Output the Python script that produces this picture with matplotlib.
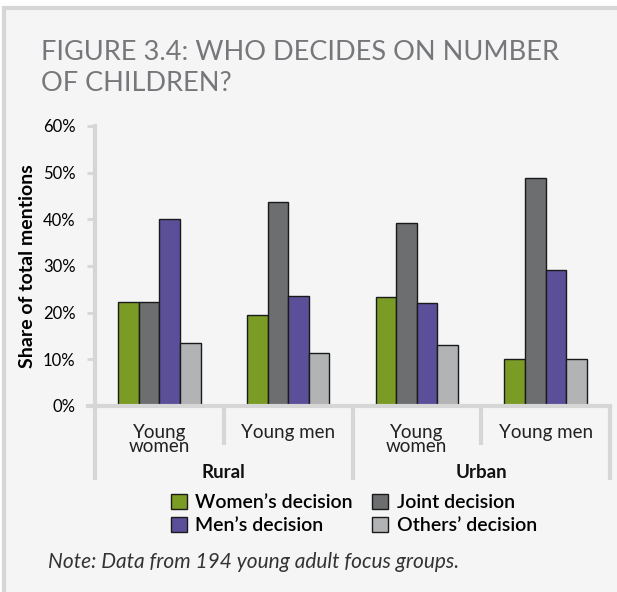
import matplotlib.pyplot as plt
import matplotlib.patches as mpatches
import numpy as np

# data
groups = ["Young\nwomen", "Young men", "Young\nwomen", "Young men"]
regions = ["Rural", "Urban"]
series = ["Women\u2019s decision", "Joint decision", "Men\u2019s decision", "Others\u2019 decision"]
womens = [22.3, 19.6, 23.4, 10.1]
joint = [22.2, 43.8, 39.3, 48.8]
mens = [40.1, 23.6, 22.1, 29.2]
others = [13.6, 11.4, 13.0, 10.0]
colors = ["#7b9c24", "#6d6e70", "#5b4f9a", "#b2b3b5"]
yticks = [0, 10, 20, 30, 40, 50, 60]

plt.rcParams['font.family'] = ['Lato', 'DejaVu Sans']

bg = "#f5f5f5"
line_gray = "#d6d6d6"

fig = plt.figure(figsize=(6.17, 5.92), dpi=100)
fig.patch.set_facecolor("white")
# panel with border at left and top
panel = mpatches.Rectangle((4 / 617, -0.01), 1.0, 1 - 8 / 592 + 0.01,
                           transform=fig.transFigure, facecolor=bg,
                           edgecolor=line_gray, linewidth=3, zorder=-5)
fig.patches.append(panel)

ax = fig.add_axes([95 / 617, 1 - 406 / 592, (610 - 95) / 617, 280 / 592])
ax.set_facecolor(bg)
ax.set_zorder(1)

x = np.arange(len(groups))
w = 0.16
vals = [womens, joint, mens, others]
for i, v in enumerate(vals):
    ax.bar(x + (i - 1.5) * w, v, w, color=colors[i], edgecolor="#1a1a1a",
           linewidth=1.0, label=series[i], zorder=3)

ax.set_xlim(-0.5, 3.5)
ax.set_ylim(0, 60)
ax.set_yticks(yticks)
ax.set_yticklabels([f"{t}%" for t in yticks], fontsize=12, color="black")
ax.tick_params(axis="y", length=6, width=2, color=line_gray, pad=8)
ax.set_xticks([])
for s in ["top", "right"]:
    ax.spines[s].set_visible(False)
ax.spines["left"].set_color(line_gray)
ax.spines["left"].set_linewidth(3)
ax.spines["bottom"].set_visible(False)
ax.axhline(0, xmin=-7 / 515, xmax=1, color=line_gray, linewidth=3, clip_on=False, zorder=4)

tr = ax.get_xaxis_transform()
# separators
for sx in [-0.5, 1.5, 3.5]:
    ax.plot([sx, sx], [0, -0.264], transform=tr, color=line_gray, linewidth=3,
            clip_on=False, solid_capstyle="butt")
for sx in [0.5, 2.5]:
    ax.plot([sx, sx], [0, -0.139], transform=tr, color=line_gray, linewidth=3,
            clip_on=False, solid_capstyle="butt")

for xi, g in zip(x, groups):
    ax.text(xi, -0.064, g, transform=tr, ha="center", va="top", fontsize=13.5,
            linespacing=0.82, color="#222222")
for ri, r in enumerate(regions):
    ax.text(2 * ri + 0.5, -0.236, r, transform=tr, ha="center", va="center",
            fontsize=13.5, fontweight="bold", color="#111111")

ax.set_ylabel("Share of total mentions", fontsize=14, fontweight="bold")
ax.yaxis.set_label_coords(-0.115, 0.5)

h, l = ax.get_legend_handles_labels()
order = [0, 2, 1, 3]
leg = fig.legend([h[i] for i in order], [l[i] for i in order], ncol=2,
                 loc="center", bbox_to_anchor=(354 / 617, 1 - 514 / 592),
                 frameon=False, fontsize=14, handlelength=0.8, handleheight=0.8,
                 handletextpad=0.45, columnspacing=1.0, labelspacing=0.3,
                 borderpad=0)
for t in leg.get_texts():
    t.set_fontweight("semibold")

fig.text(41 / 617, 1 - 40 / 592, "FIGURE 3.4: WHO DECIDES ON NUMBER\nOF CHILDREN?",
         ha="left", va="top", fontsize=19.5, fontweight="normal", color="#76777a",
         linespacing=1.32)
fig.text(48 / 617, 1 - 562 / 592, "Note: Data from 194 young adult focus groups.",
         ha="left", va="center", fontsize=15, style="italic", color="#333333")

fig.savefig("out.png", dpi=100, facecolor=fig.get_facecolor())
